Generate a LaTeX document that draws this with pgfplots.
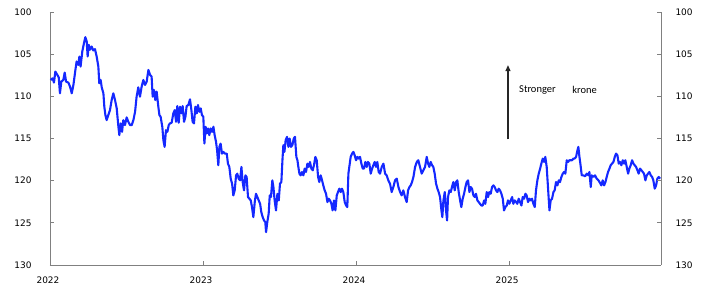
\documentclass[border=0pt]{standalone}
\usepackage{fontspec}
\setmainfont{DejaVu Sans}
\newfontfamily\carlito{Carlito}
\usepackage{pgfplots}
\pgfplotsset{compat=1.18}
\usetikzlibrary{arrows.meta}
\definecolor{lineblue}{RGB}{20,40,255}
\definecolor{axgray}{RGB}{128,128,128}
\begin{document}
\begin{tikzpicture}
\useasboundingbox (-50bp,-29bp) rectangle (672bp,265bp);
\pgfplotsset{
  commonax/.style={
    scale only axis, width=611bp, height=253bp,
    xmin=2022, xmax=2025.993, ymin=100, ymax=130, y dir=reverse,
    ytick={100,105,...,130},
    tick align=inside, major tick length=4bp,
    axis line style={draw=axgray, line width=0.8pt},
    tick style={draw=axgray, line width=0.8pt},
    tick label style={font=\fontsize{9}{10}\selectfont, text=black},
    /pgf/number format/assume math mode=true,
    /pgf/number format/1000 sep={},
  }
}
\begin{axis}[commonax,
  axis x line*=bottom, axis y line*=left,
  xtick={2022,2023,2024,2025},
  xticklabels={2022,2023,2024,2025},
  xticklabel style={yshift=-8bp, xshift=-2bp},
  yticklabel style={xshift=-15bp},
  clip=false]
\addplot[color=lineblue, line width=2.1pt, line join=round] coordinates {
(2022.004,108.06)(2022.017,107.86)(2022.026,108.37)(2022.035,107.06)(2022.048,107.46)(2022.057,107.74)(2022.065,109.64)(2022.074,108.25)(2022.087,108.06)(2022.096,107.18)(2022.105,108.25)(2022.120,108.37)(2022.131,108.85)(2022.142,109.64)(2022.153,108.65)(2022.166,106.87)(2022.174,105.87)(2022.185,106.27)(2022.192,105.28)(2022.200,106.47)(2022.211,104.68)(2022.222,103.69)(2022.231,102.98)(2022.240,103.49)(2022.246,105.28)(2022.253,103.89)(2022.261,104.48)(2022.272,104.09)(2022.283,104.56)(2022.294,104.40)(2022.305,105.28)(2022.316,106.47)(2022.322,108.45)(2022.331,108.06)(2022.338,108.93)(2022.349,109.64)(2022.355,111.23)(2022.362,112.22)(2022.370,112.82)(2022.381,112.22)(2022.392,111.63)(2022.403,110.44)(2022.414,109.64)(2022.425,110.44)(2022.436,111.43)(2022.447,113.61)(2022.453,114.60)(2022.462,113.21)(2022.471,114.21)(2022.479,112.82)(2022.490,113.41)(2022.501,112.50)(2022.512,113.02)(2022.523,113.41)(2022.534,113.41)(2022.545,112.82)(2022.556,111.83)(2022.566,110.04)(2022.577,108.93)(2022.588,110.04)(2022.599,108.85)(2022.610,108.06)(2022.621,108.65)(2022.632,108.25)(2022.643,106.87)(2022.654,107.46)(2022.664,107.66)(2022.671,110.04)(2022.680,109.25)(2022.688,110.44)(2022.697,109.44)(2022.708,111.23)(2022.715,112.22)(2022.723,112.42)(2022.734,113.61)(2022.741,115.20)(2022.749,115.99)(2022.758,114.01)(2022.767,114.21)(2022.776,113.41)(2022.784,113.21)(2022.795,113.13)(2022.806,112.02)(2022.815,111.63)(2022.824,113.02)(2022.832,111.15)(2022.841,113.13)(2022.850,111.23)(2022.861,112.02)(2022.867,111.15)(2022.876,113.02)(2022.885,112.42)(2022.893,111.15)(2022.904,111.03)(2022.915,110.36)(2022.924,111.63)(2022.932,113.02)(2022.941,113.21)(2022.950,111.23)(2022.959,112.02)(2022.967,111.03)(2022.976,111.83)(2022.985,111.43)(2022.993,112.22)(2023.002,112.42)(2023.009,115.60)(2023.017,113.61)(2023.024,114.40)(2023.033,113.81)(2023.041,114.60)(2023.050,113.81)(2023.059,114.21)(2023.068,113.61)(2023.076,114.60)(2023.085,115.40)(2023.092,116.39)(2023.100,118.17)(2023.107,115.99)(2023.115,115.60)(2023.124,116.79)(2023.133,116.59)(2023.144,116.79)(2023.155,116.79)(2023.163,117.98)(2023.172,118.37)(2023.181,119.76)(2023.190,120.36)(2023.198,121.75)(2023.207,121.15)(2023.216,119.37)(2023.224,119.17)(2023.233,119.76)
(2023.242,119.96)(2023.251,118.37)(2023.259,120.16)(2023.268,121.15)(2023.277,119.37)(2023.285,119.56)(2023.294,121.94)(2023.303,122.14)(2023.312,122.34)(2023.320,123.13)(2023.329,124.33)(2023.338,122.54)(2023.346,121.55)(2023.355,121.94)(2023.364,122.34)(2023.373,122.74)(2023.381,123.73)(2023.390,124.33)(2023.399,124.72)(2023.407,124.92)(2023.412,126.11)(2023.420,124.92)(2023.429,123.93)(2023.436,121.75)(2023.444,121.94)(2023.453,119.96)(2023.460,120.75)(2023.468,122.34)(2023.477,123.53)(2023.486,121.55)(2023.495,122.34)(2023.503,120.36)(2023.512,120.16)(2023.519,117.58)(2023.525,115.79)(2023.532,116.59)(2023.540,115.20)(2023.549,114.80)(2023.558,115.99)(2023.566,115.00)(2023.575,115.99)(2023.584,115.79)(2023.593,115.00)(2023.601,114.80)(2023.610,117.18)(2023.617,117.58)(2023.623,118.37)(2023.630,119.17)(2023.638,119.37)(2023.647,118.97)(2023.656,119.37)(2023.664,118.57)(2023.673,118.97)(2023.682,117.98)(2023.691,118.37)(2023.699,117.78)(2023.708,118.57)(2023.717,118.77)(2023.725,118.17)(2023.734,117.18)(2023.743,117.58)(2023.752,119.56)(2023.760,120.16)(2023.769,119.37)(2023.778,119.96)(2023.786,120.56)(2023.795,121.15)(2023.804,121.55)(2023.813,122.54)(2023.821,122.14)(2023.830,122.34)(2023.839,122.74)(2023.847,123.53)(2023.856,122.34)(2023.865,123.53)(2023.874,121.75)(2023.882,121.35)(2023.891,120.95)(2023.900,121.35)(2023.908,120.95)(2023.917,121.35)(2023.926,122.54)(2023.935,122.94)(2023.943,123.13)(2023.950,119.17)(2023.956,118.37)(2023.965,117.18)(2023.974,116.79)(2023.983,116.59)(2023.991,116.98)(2024.000,117.58)(2024.009,117.18)(2024.017,117.38)(2024.026,117.18)(2024.035,117.98)(2024.044,118.57)(2024.052,118.57)(2024.061,117.78)(2024.070,118.37)(2024.078,117.78)(2024.087,117.98)(2024.096,119.17)(2024.105,118.57)(2024.113,118.17)(2024.122,117.78)(2024.131,118.37)(2024.139,117.78)(2024.148,118.97)(2024.157,119.17)
(2024.168,118.37)(2024.179,117.98)(2024.190,119.17)(2024.200,119.37)(2024.211,119.96)(2024.222,120.36)(2024.233,121.35)(2024.244,120.75)(2024.255,119.96)(2024.266,119.76)(2024.277,120.75)(2024.288,121.35)(2024.298,121.75)(2024.309,121.15)(2024.320,121.94)(2024.331,122.54)(2024.340,121.15)(2024.349,120.75)(2024.357,120.56)(2024.366,120.16)(2024.375,119.56)(2024.386,118.37)(2024.397,117.78)(2024.407,117.58)(2024.418,118.37)(2024.429,119.17)(2024.440,118.77)(2024.451,118.37)(2024.462,117.18)(2024.471,117.98)(2024.479,118.37)(2024.488,117.78)(2024.497,118.17)(2024.505,118.37)(2024.514,119.17)(2024.523,120.36)(2024.532,120.95)(2024.540,121.35)(2024.549,121.94)(2024.558,123.53)(2024.564,124.33)(2024.571,122.34)(2024.580,121.35)(2024.588,123.53)(2024.595,124.72)(2024.601,121.94)(2024.610,121.15)(2024.619,121.35)(2024.627,120.75)(2024.636,120.16)(2024.645,121.15)(2024.654,120.16)(2024.662,119.96)(2024.671,121.35)(2024.680,122.34)(2024.688,123.13)(2024.697,122.14)(2024.706,121.55)(2024.715,120.75)(2024.723,120.16)(2024.732,119.96)(2024.741,121.35)(2024.749,120.75)(2024.758,120.95)(2024.767,121.75)(2024.776,121.94)(2024.784,121.55)(2024.793,122.34)(2024.802,122.54)(2024.810,122.74)(2024.819,122.94)(2024.828,122.94)(2024.837,122.34)(2024.845,122.74)(2024.854,121.35)(2024.863,121.94)(2024.871,121.35)(2024.880,121.55)(2024.889,120.75)(2024.898,120.56)(2024.906,120.75)(2024.915,121.15)(2024.924,121.35)(2024.932,120.95)(2024.941,121.15)(2024.950,121.55)(2024.959,122.14)(2024.967,123.53)(2024.976,123.13)(2024.985,122.94)(2024.993,122.34)(2025.002,122.74)(2025.011,122.34)(2025.020,121.94)(2025.028,122.74)(2025.037,122.34)(2025.046,122.54)(2025.054,122.74)(2025.063,122.14)(2025.072,122.54)(2025.081,122.94)(2025.089,121.94)(2025.098,122.14)(2025.107,121.55)(2025.115,121.75)(2025.124,122.54)(2025.133,122.14)(2025.142,122.34)(2025.150,122.14)(2025.159,122.74)(2025.168,123.13)(2025.176,121.15)(2025.185,119.96)(2025.194,119.17)(2025.203,118.57)(2025.211,117.98)(2025.220,117.38)(2025.229,117.78)(2025.237,117.18)(2025.246,118.37)(2025.255,120.95)(2025.264,123.53)(2025.272,122.34)(2025.281,122.14)(2025.290,121.35)(2025.298,121.15)(2025.307,120.16)(2025.316,120.56)(2025.325,119.96)(2025.333,120.16)(2025.342,119.56)(2025.351,119.17)(2025.359,118.97)(2025.368,119.17)(2025.377,117.58)(2025.386,117.78)(2025.394,117.58)(2025.403,117.58)(2025.412,117.58)(2025.420,117.38)(2025.429,117.38)(2025.438,117.18)(2025.447,116.39)(2025.453,115.99)(2025.460,117.18)
(2025.466,117.98)(2025.475,119.37)(2025.486,119.37)(2025.497,119.48)(2025.508,119.17)(2025.519,119.37)(2025.525,118.97)(2025.534,120.75)(2025.540,119.37)(2025.551,119.56)(2025.562,119.37)(2025.573,119.76)(2025.584,119.96)(2025.595,120.28)(2025.603,120.56)(2025.612,119.96)(2025.621,120.56)(2025.630,120.16)(2025.638,119.56)(2025.647,118.97)(2025.656,118.57)(2025.664,118.17)(2025.673,117.98)(2025.682,117.78)(2025.691,117.18)(2025.699,116.79)(2025.708,116.98)(2025.717,117.98)(2025.725,117.78)(2025.734,118.17)(2025.743,117.58)(2025.752,117.98)(2025.760,117.58)(2025.769,118.37)(2025.778,119.17)(2025.786,118.57)(2025.795,118.17)(2025.804,117.58)(2025.813,117.98)(2025.821,118.17)(2025.830,118.37)(2025.839,118.77)(2025.847,119.17)(2025.856,118.57)(2025.865,118.77)(2025.874,118.97)(2025.882,119.17)(2025.891,119.96)(2025.900,119.37)(2025.908,119.17)(2025.917,118.97)(2025.926,119.37)(2025.935,119.56)(2025.943,119.96)(2025.952,120.95)(2025.961,120.56)(2025.969,119.76)(2025.978,119.56)(2025.987,119.76)
};
\draw[draw=black!85, line width=1.2pt, -{Triangle[length=6bp,width=5bp]}] (axis cs:2024.993,115.1) -- (axis cs:2024.993,106.3);
\node[anchor=west, inner sep=0pt, font=\carlito\fontsize{10.5}{12}\selectfont] at (axis cs:2025.065,109.25) {Stronger};
\node[anchor=west, inner sep=0pt, font=\carlito\fontsize{10.5}{12}\selectfont] at (axis cs:2025.412,109.25) {krone};
\end{axis}
\begin{axis}[commonax,
  axis x line=none, axis y line*=right,
  yticklabel style={xshift=11bp}]
\end{axis}
\end{tikzpicture}
\end{document}
